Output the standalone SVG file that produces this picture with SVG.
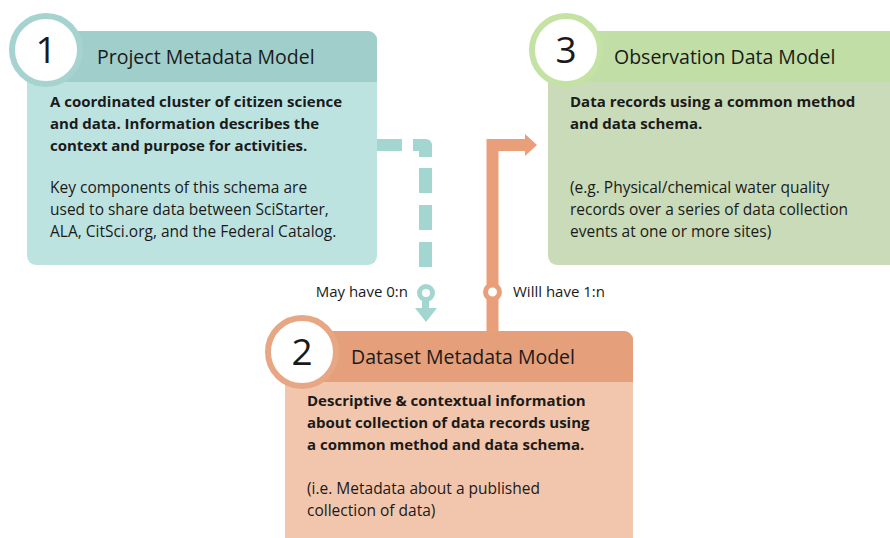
<svg xmlns="http://www.w3.org/2000/svg" width="890" height="538" viewBox="0 0 890 538">
<style>
.t{font-family:"Open Sans","Noto Sans","Liberation Sans",sans-serif;fill:#1a1a1a}
.h{font-size:19.5px}
.b{font-size:15px;font-weight:bold}
.r{font-size:15.5px}
.n{font-size:37px;text-anchor:middle}
.l{font-size:15px}
</style>
<rect width="890" height="538" fill="#ffffff"/>
<g id="node1">
<rect x="27" y="31" width="350" height="234" rx="9" fill="#bde3e1"/>
<path d="M36,31 H368 A9,9 0 0 1 377,40 V82 H27 V40 A9,9 0 0 1 36,31 Z" fill="#9fcecb"/>
<circle cx="46" cy="50" r="34" fill="#ffffff" stroke="#a6d3d0" stroke-width="6"/>
<text class="t n" x="46" y="63">1</text>
<text class="t h" x="97" y="64">Project Metadata Model</text>
<text class="t b" x="50" y="107">A coordinated cluster of citizen science</text>
<text class="t b" x="50" y="129">and data. Information describes the</text>
<text class="t b" x="50" y="151">context and purpose for activities.</text>
<text class="t r" x="50" y="193">Key components of this schema are</text>
<text class="t r" x="50" y="215">used to share data between SciStarter,</text>
<text class="t r" x="50" y="237">ALA, CitSci.org, and the Federal Catalog.</text>
</g>
<g id="node3">
<rect x="548" y="31" width="350" height="234" rx="9" fill="#c9dbb8"/>
<path d="M557,31 H889 A9,9 0 0 1 898,40 V82 H548 V40 A9,9 0 0 1 557,31 Z" fill="#c0dea6"/>
<circle cx="566" cy="50" r="34" fill="#ffffff" stroke="#c5e2a5" stroke-width="6"/>
<text class="t n" x="566" y="63">3</text>
<text class="t h" x="614" y="64">Observation Data Model</text>
<text class="t b" x="570" y="107">Data records using a common method</text>
<text class="t b" x="570" y="129">and data schema.</text>
<text class="t r" x="570" y="193">(e.g. Physical/chemical water quality</text>
<text class="t r" x="570" y="215">records over a series of data collection</text>
<text class="t r" x="570" y="237">events at one or more sites)</text>
</g>
<g id="node2">
<rect x="285" y="331" width="348" height="220" rx="9" fill="#f2c6ad"/>
<path d="M294,331 H624 A9,9 0 0 1 633,340 V382 H285 V340 A9,9 0 0 1 294,331 Z" fill="#e59f7a"/>
<circle cx="302" cy="352" r="34" fill="#ffffff" stroke="#e8a784" stroke-width="6"/>
<text class="t n" x="302" y="365">2</text>
<text class="t h" x="351" y="364">Dataset Metadata Model</text>
<text class="t b" x="307" y="406">Descriptive &amp; contextual information</text>
<text class="t b" x="307" y="428">about collection of data records using</text>
<text class="t b" x="307" y="450">a common method and data schema.</text>
<text class="t r" x="307" y="494">(i.e. Metadata about a published</text>
<text class="t r" x="307" y="516">collection of data)</text>
</g>
<g id="connectors">
<g fill="#a3d5d1">
<rect x="377" y="139" width="25" height="12"/>
<path d="M413,139 H426 A6,6 0 0 1 432,145 V157 H419 V151 H413 Z"/>
<rect x="419" y="168" width="13" height="25"/>
<rect x="419" y="205" width="13" height="25"/>
<rect x="419" y="242" width="13" height="25"/>
<rect x="422" y="300" width="7" height="9"/>
<path d="M415,308 H437 L426,322 Z"/>
</g>
<circle cx="426" cy="293" r="6.5" fill="#ffffff" stroke="#a3d5d1" stroke-width="5"/>
<path d="M492.5,331 V145 H527" fill="none" stroke="#e89f7a" stroke-width="12" stroke-linejoin="miter"/>
<path d="M525,134 L537,145 L525,156 Z" fill="#e89f7a"/>
<circle cx="492.5" cy="292" r="7" fill="#ffffff" stroke="#e89f7a" stroke-width="5"/>
<text class="t l" x="408" y="297" text-anchor="end">May have 0:n</text>
<text class="t l" x="513" y="297">Willl have 1:n</text>
</g>
</svg>
